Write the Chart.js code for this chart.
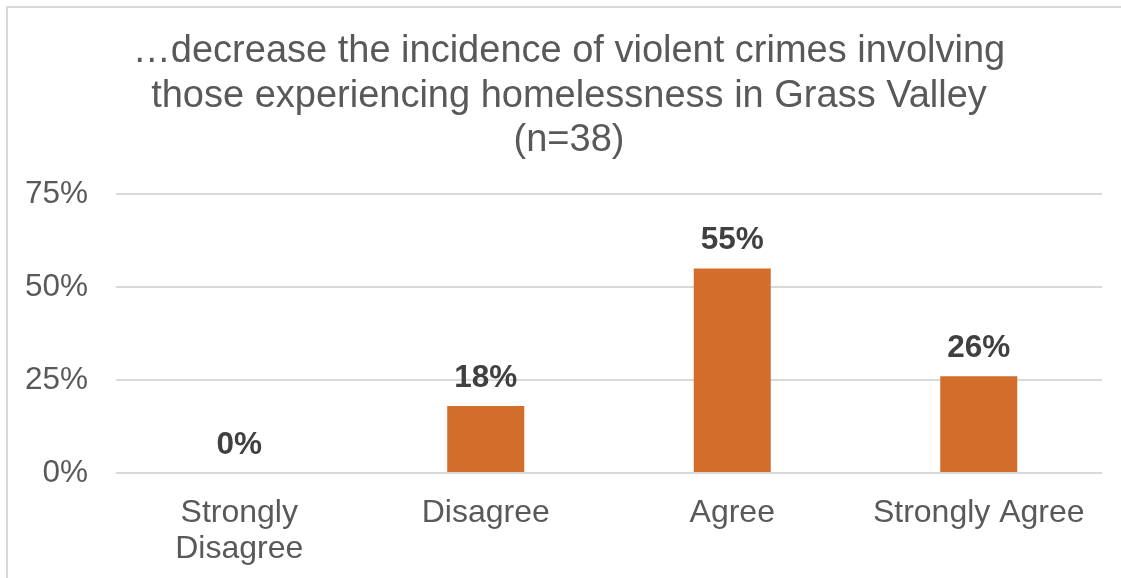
<!DOCTYPE html>
<html>
<head>
<meta charset="utf-8">
<script src="https://cdn.jsdelivr.net/npm/chart.js@4.4.1/dist/chart.umd.min.js"></script>
<style>
  html, body { margin: 0; padding: 0; background: #ffffff; overflow: hidden; }
  #wrap { position: relative; width: 1121px; height: 578px; overflow: hidden; }
  #frame {
    position: absolute; left: 6px; top: 6px; width: 1200px; height: 620px;
    border: 2px solid #d9d9d9; box-sizing: border-box; pointer-events: none;
  }
  canvas { position: absolute; left: 0; top: 0; }
</style>
</head>
<body>
<div id="wrap">
  <canvas id="chart" width="1121" height="578"></canvas>
  <div id="frame"></div>
</div>
<script>
// Survey responses (share of respondents, %)
const categories = [["Strongly", "Disagree"], "Disagree", "Agree", "Strongly Agree"];
const values = [0, 18, 55, 26];
const valueLabels = ["0%", "18%", "55%", "26%"];
const titleLines = [
  "\u2026decrease the incidence of violent crimes involving",
  "those experiencing homelessness in Grass Valley",
  "(n=38)"
];
const yTicks = [0, 25, 50, 75];

const FONT = "'Liberation Sans', Arial, Helvetica, sans-serif";

// Three-line heading, centred over the frame
const headingPlugin = {
  id: "heading",
  afterDraw(chart) {
    const ctx = chart.ctx;
    ctx.save();
    ctx.font = "38px " + FONT;
    ctx.fillStyle = "#595959";
    ctx.textAlign = "center";
    ctx.textBaseline = "alphabetic";
    titleLines.forEach((line, i) => {
      ctx.fillText(line, 569, 62 + i * 44.5);
    });
    ctx.restore();
  }
};

// Bold value labels above each bar
const barValueLabels = {
  id: "barValueLabels",
  afterDatasetsDraw(chart) {
    const ctx = chart.ctx;
    const meta = chart.getDatasetMeta(0);
    ctx.save();
    ctx.font = "bold 31.5px " + FONT;
    ctx.fillStyle = "#404040";
    ctx.textAlign = "center";
    ctx.textBaseline = "middle";
    meta.data.forEach((bar, i) => {
      ctx.fillText(valueLabels[i], bar.x, bar.y - 28);
    });
    ctx.restore();
  }
};

new Chart(document.getElementById("chart"), {
  type: "bar",
  data: {
    labels: categories,
    datasets: [{
      data: values,
      backgroundColor: "#D36D2B",
      borderWidth: 0,
      categoryPercentage: 1,
      barPercentage: 0.3125
    }]
  },
  options: {
    responsive: false,
    animation: false,
    events: [],
    layout: { padding: { left: 0, right: 19, top: 194, bottom: 0 } },
    plugins: {
      legend: { display: false },
      tooltip: { enabled: false },
      title: { display: false }
    },
    scales: {
      x: {
        grid: { display: false, drawTicks: false },
        border: { display: false },
        ticks: {
          color: "#595959",
          font: { family: FONT, size: 32, lineHeight: 1.13 },
          padding: 22,
          maxRotation: 0,
          autoSkip: false
        },
        afterFit(scale) { scale.height = 105; }
      },
      y: {
        min: 0,
        max: 75,
        afterBuildTicks(scale) { scale.ticks = yTicks.map(v => ({ value: v })); },
        grid: { color: "#d9d9d9", lineWidth: 2, drawTicks: false },
        border: { display: false },
        ticks: {
          color: "#595959",
          font: { family: FONT, size: 31.5 },
          padding: 28,
          callback: v => v + "%"
        },
        afterFit(scale) { scale.width = 116; }
      }
    }
  },
  plugins: [headingPlugin, barValueLabels]
});
</script>
</body>
</html>
